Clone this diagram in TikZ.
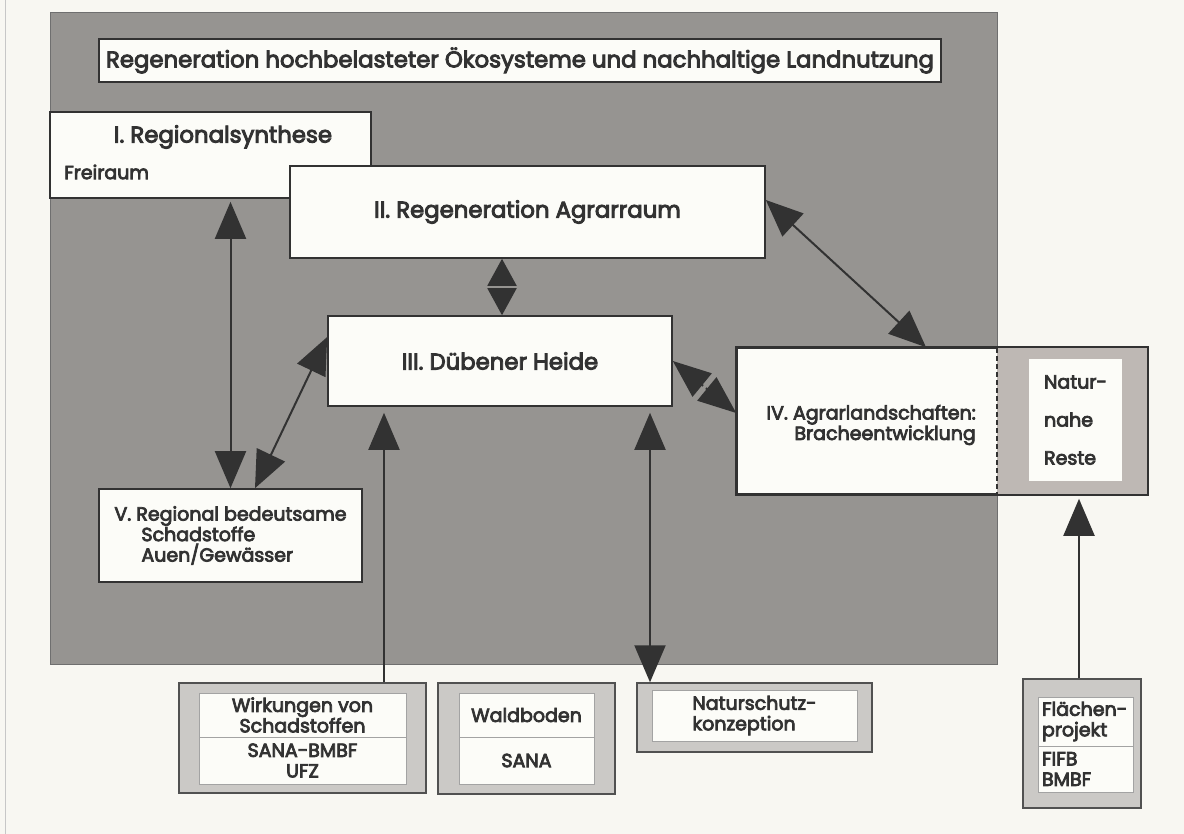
\documentclass[tikz,border=0pt]{standalone}
\usepackage{fontspec}
\setmainfont{Poppins}[FakeBold=4]
\usetikzlibrary{arrows.meta}
\definecolor{paper}{RGB}{248,247,242}
\definecolor{frame}{RGB}{150,148,145}
\definecolor{ink}{RGB}{50,50,50}
\definecolor{pale}{RGB}{190,184,180}
\definecolor{shellgray}{RGB}{203,201,198}
\definecolor{cellwhite}{RGB}{252,252,248}
\newcommand\bigsize{\fontsize{22.8}{27}\selectfont}
\newcommand\smallsize{\fontsize{19}{20.5}\selectfont}
\tikzset{>={Triangle[length=37pt,width=31pt]}}

\begin{document}
\begin{tikzpicture}[x=1pt,y=-1pt,
    box/.style={draw=ink,line width=1.6pt,fill=cellwhite,text=ink,inner sep=0pt,align=center},
    shell/.style={draw=ink!85,line width=1.4pt,fill=shellgray,inner sep=0pt},
    cell/.style={draw=ink!45,line width=0.6pt,fill=cellwhite,text=ink,inner sep=0pt,align=center,font=\smallsize},
    txt/.style={text=ink,inner sep=0pt},
    link/.style={draw=ink,line width=2pt},
    half/.style={link,-{Triangle[length=27pt,width=29pt]},shorten <=1.8pt}]
    \useasboundingbox (0,0) rectangle (1184,834);
    \fill[paper] (0,0) rectangle (1184,834);
    \draw[black!22,line width=1pt] (5,0) -- (5,834);
    \fill[frame] (50,12) rectangle (997,664);
    \draw[ink!70,line width=0.8pt] (50,12) rectangle (997,664);

    \node[box,minimum width=842pt,minimum height=43pt,font=\bigsize] (title) at (520,60.5) {Regeneration hochbelasteter Ökosysteme und nachhaltige Landnutzung};
    \node[box,minimum width=321pt,minimum height=86pt] (I) at (210.5,155) {};
    \node[txt,font=\bigsize] (Ihead) at (223,137) {I. Regionalsynthese};
    \node[txt,anchor=west,font=\smallsize] (Ifrei) at (64,172) {Freiraum};
    \node[box,minimum width=475pt,minimum height=92pt,font=\bigsize] (II) at (527.5,212) {II. Regeneration Agrarraum};
    \node[box,minimum width=344pt,minimum height=90pt,font=\bigsize] (III) at (500,361) {III. Dübener Heide};
    \node[box,minimum width=410pt,minimum height=146pt] (IV) at (942,421) {};
    \fill[pale] (997,348) rectangle (1147,494);
    \node[cell,draw=none,minimum width=93pt,minimum height=122pt,align=left,font={\fontsize{19}{38}\selectfont}] (rest) at (1075.5,420) {Natur-\\nahe\\Reste};
    \draw[ink,line width=1.2pt,dash pattern=on 5pt off 3pt] (997,348) -- (997,494);
    \draw[ink,line width=1.6pt] (IV.north west) rectangle (IV.south east);
    \node[txt,anchor=east,align=right,font=\smallsize] (IVtxt) at (976,425) {IV. Agrarlandschaften:\\Bracheentwicklung};
    \node[box,minimum width=263pt,minimum height=93pt,align=left,font=\smallsize] (V) at (230.5,535.5) {V. Regional bedeutsame\\\hspace*{27pt}Schadstoffe\\\hspace*{27pt}Auen/Gewässer};

    \node[shell,minimum width=247pt,minimum height=110pt] (wirk) at (302.5,738) {};
    \node[cell,minimum width=207pt,minimum height=44pt] (wirkA) at (302.5,715) {Wirkungen von\\Schadstoffen};
    \node[cell,minimum width=207pt,minimum height=47pt] (wirkB) at (302.5,760.5) {SANA-BMBF\\UFZ};
    \node[shell,minimum width=177pt,minimum height=111pt] (wald) at (526.5,738.5) {};
    \node[cell,minimum width=135pt,minimum height=44pt] (waldA) at (526.5,715) {Waldboden};
    \node[cell,minimum width=135pt,minimum height=47pt] (waldB) at (526.5,760.5) {SANA};
    \node[shell,minimum width=235pt,minimum height=69pt] (nat) at (754.5,717.5) {};
    \node[cell,minimum width=205pt,minimum height=51pt,align=left] (natA) at (754.5,715.5) {Naturschutz-\\konzeption};
    \node[shell,minimum width=118pt,minimum height=129pt] (fl) at (1082,743.5) {};
    \node[cell,minimum width=95pt,minimum height=49pt,text width=88pt,align=left] (flA) at (1086,721.5) {Flächen-\\projekt};
    \node[cell,minimum width=95pt,minimum height=46pt,text width=88pt,align=left] (flB) at (1086,769) {FIFB\\BMBF};

    \coordinate (mid23) at (502,287);
    \coordinate (mid34) at (704.5,387);
    \draw[link,<->,shorten <=3pt] (I.south -| V.north) -- (V.north);
    \draw[half] (mid23) -- (II.south -| mid23);
    \draw[half] (mid23) -- (III.north -| mid23);
    \draw[link,<->] ([yshift=12pt]II.east) -- ([xshift=-16pt]IV.north);
    \draw[link,<->] ([yshift=24pt]III.west) -- ([xshift=24.5pt]V.north);
    \draw[link,-{Triangle[length=38pt,width=30pt]},shorten <=1.8pt] (mid34) -- (III.east);
    \draw[link,-{Triangle[length=38pt,width=30pt]},shorten <=1.8pt] (mid34) -- ([yshift=8pt]IV.west);
    \draw[link,->,shorten >=6pt] ([xshift=81.5pt]wirk.north) -- ([xshift=-116pt]III.south);
    \draw[link,<->,shorten <=6pt] ([xshift=150pt]III.south) -- ([xshift=-104.5pt]nat.north);
    \draw[link,->,shorten >=4pt] ([xshift=-3pt]fl.north) -- ([xshift=137pt]IV.south);
\end{tikzpicture}
\end{document}
